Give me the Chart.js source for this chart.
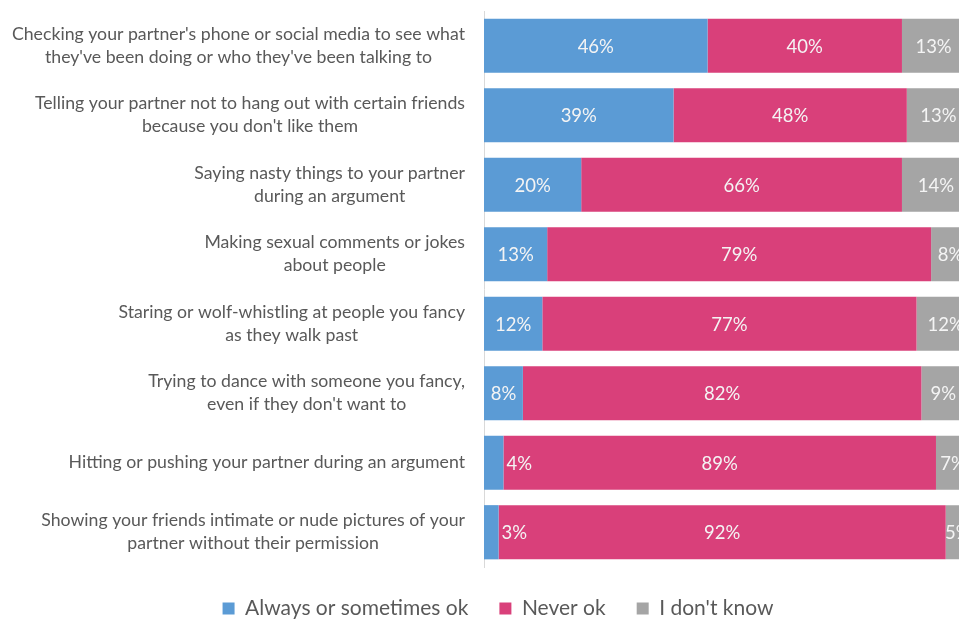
<!DOCTYPE html>
<html>
<head>
<meta charset="utf-8">
<script src="https://cdn.jsdelivr.net/npm/chart.js@4.4.1/dist/chart.umd.min.js"></script>
<style>
  html, body { margin: 0; padding: 0; background: #fff; overflow: hidden; }
  #wrap { width: 980px; height: 629px; }
</style>
</head>
<body>
<div id="wrap"><canvas id="grafico"></canvas></div>
<script>
// Categories (each one split into the lines it is drawn on)
const categories = [
    ["Checking your partner's phone or social media to see what", "they've been doing or who they've been talking to"],
    ["Telling your partner not to hang out with certain friends", "because you don't like them"],
    ["Saying nasty things to your partner", "during an argument"],
    ["Making sexual comments or jokes", "about people"],
    ["Staring or wolf-whistling at people you fancy", "as they walk past"],
    ["Trying to dance with someone you fancy,", "even if they don't want to"],
    ["Hitting or pushing your partner during an argument"],
    ["Showing your friends intimate or nude pictures of your", "partner without their permission"]
];

const seriesNames = ['Always or sometimes ok', 'Never ok', "I don't know"];
const alwaysOk = [46, 39, 20, 13, 12, 8, 4, 3];
const neverOk  = [40, 48, 66, 79, 77, 82, 89, 92];
const dontKnow = [13, 13, 14, 8, 12, 9, 7, 5];

const FONT = 'Lato, "Open Sans", sans-serif';
const TEXT_GREY = '#595959';

// Category labels: block right aligned next to the axis, lines centred inside it
const categoryLabels = {
    id: 'categoryLabels',
    afterDraw(chart) {
        const ctx = chart.ctx;
        const yScale = chart.scales.y;
        const rightEdge = yScale.right - 19;
        const lineH = 23;
        ctx.save();
        ctx.font = '17.7px ' + FONT;
        ctx.fillStyle = TEXT_GREY;
        ctx.textAlign = 'center';
        ctx.textBaseline = 'middle';
        categories.forEach((lines, i) => {
            const y = yScale.getPixelForTick(i);
            const blockW = Math.max(...lines.map(l => ctx.measureText(l).width));
            const cx = rightEdge - blockW / 2;
            lines.forEach((line, j) => {
                ctx.fillText(line, cx, y + (j - (lines.length - 1) / 2) * lineH);
            });
        });
        ctx.restore();
    }
};

// Percentage labels inside each segment
const valueLabels = {
    id: 'valueLabels',
    afterDatasetsDraw(chart) {
        const ctx = chart.ctx;
        ctx.save();
        ctx.font = '18.5px ' + FONT;
        ctx.fillStyle = '#f4f4f4';
        ctx.textBaseline = 'middle';
        chart.data.datasets.forEach((ds, d) => {
            chart.getDatasetMeta(d).data.forEach((bar, i) => {
                const v = ds.data[i];
                const txt = v + '%';
                if (d === 0 && v < 5) {
                    // too thin: put it just past the end of the segment
                    ctx.textAlign = 'left';
                    ctx.fillText(txt, bar.x + 3, bar.y + 1);
                } else {
                    ctx.textAlign = 'center';
                    ctx.fillText(txt, (bar.x + bar.base) / 2, bar.y + 1);
                }
            });
        });
        ctx.restore();
    }
};

new Chart(document.getElementById('grafico'), {
    type: 'bar',
    data: {
        labels: categories,
        datasets: [
            { label: seriesNames[0], data: alwaysOk, backgroundColor: '#5b9bd5', borderWidth: 0 },
            { label: seriesNames[1], data: neverOk,  backgroundColor: '#d9407a', borderWidth: 0 },
            { label: seriesNames[2], data: dontKnow, backgroundColor: '#a5a5a5', borderWidth: 0 }
        ]
    },
    options: {
        indexAxis: 'y',
        responsive: true,
        maintainAspectRatio: false,
        animation: false,
        layout: { padding: { left: 26, top: 11, right: 10, bottom: 0 } },
        datasets: { bar: { barPercentage: 0.78, categoryPercentage: 1 } },
        scales: {
            x: { stacked: true, min: 0, max: 100, display: false },
            y: {
                stacked: true,
                ticks: { display: false },
                grid: { display: false },
                border: { display: true, color: '#d9d9d9', width: 1 },
                afterFit: (scale) => { scale.width = 458; }
            }
        },
        plugins: {
            legend: {
                position: 'bottom',
                labels: {
                    boxWidth: 12,
                    boxHeight: 12,
                    padding: 31,
                    color: TEXT_GREY,
                    font: { family: FONT, size: 21 }
                }
            },
            tooltip: { enabled: false }
        }
    },
    plugins: [categoryLabels, valueLabels]
});
</script>
</body>
</html>
